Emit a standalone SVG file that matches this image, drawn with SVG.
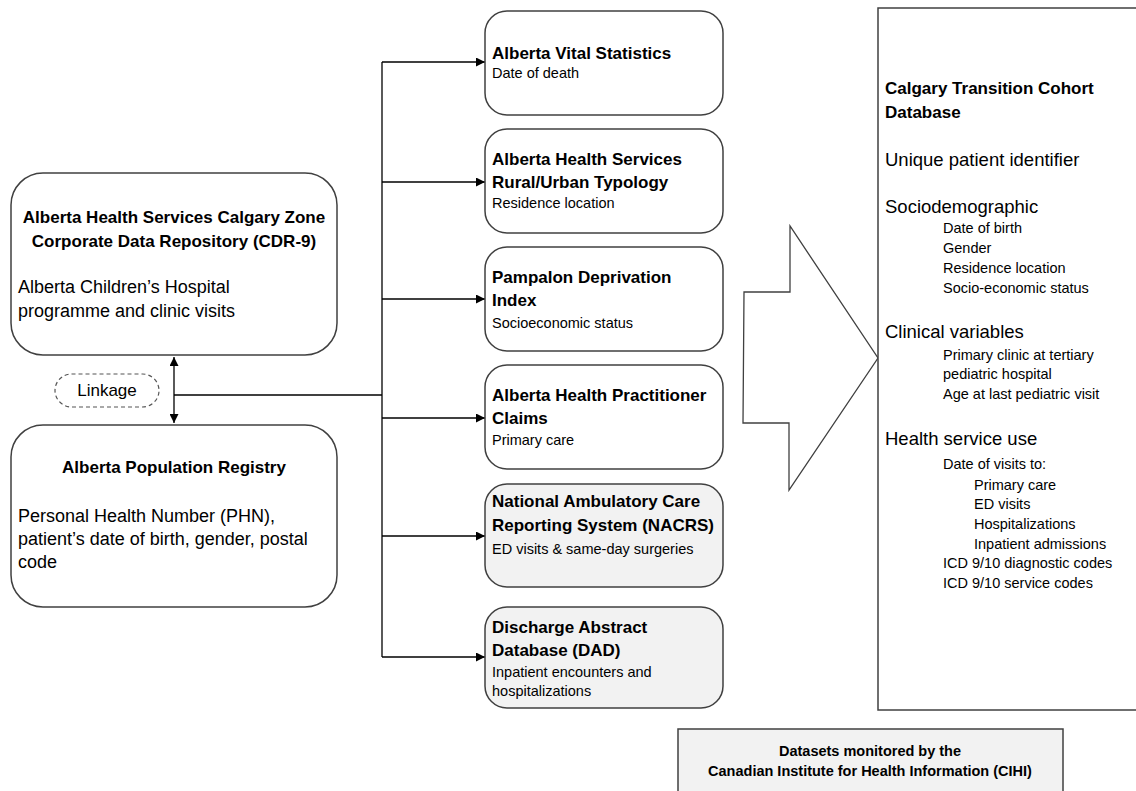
<svg xmlns="http://www.w3.org/2000/svg" width="1136" height="791" viewBox="0 0 1136 791">
<defs>
<marker id="ah" viewBox="0 0 10 10" refX="10" refY="5" markerWidth="10" markerHeight="9" markerUnits="userSpaceOnUse" orient="auto-start-reverse">
<path d="M0,0 L10,5 L0,10 Z" fill="#000"/>
</marker>
</defs>
<style>
text{font-family:"Liberation Sans",Arial,sans-serif;fill:#000}
.box{fill:#fff;stroke:#404040;stroke-width:1.5}
.gbox{fill:#f2f2f2;stroke:#404040;stroke-width:1.5}
.ln{fill:none;stroke:#000;stroke-width:1.3}
.t17b{font-size:17px;font-weight:bold}
.t18{font-size:18px}
.mt{font-size:17px;font-weight:bold}
.ms{font-size:14.5px}
.rh{font-size:18.5px}
.ri{font-size:14.5px}
.lg{font-size:14.5px;font-weight:bold}
</style>
<rect width="1136" height="791" fill="#fff"/>

<g id="connectors">
<line class="ln" x1="382" y1="62" x2="382" y2="657"/>
<line class="ln" x1="174" y1="395" x2="382" y2="395"/>
<line class="ln" x1="174" y1="357" x2="174" y2="423" marker-start="url(#ah)" marker-end="url(#ah)"/>
<line class="ln" x1="382" y1="62" x2="485" y2="62" marker-end="url(#ah)"/>
<line class="ln" x1="382" y1="182" x2="485" y2="182" marker-end="url(#ah)"/>
<line class="ln" x1="382" y1="299" x2="485" y2="299" marker-end="url(#ah)"/>
<line class="ln" x1="382" y1="418" x2="485" y2="418" marker-end="url(#ah)"/>
<line class="ln" x1="382" y1="536" x2="485" y2="536" marker-end="url(#ah)"/>
<line class="ln" x1="382" y1="657" x2="485" y2="657" marker-end="url(#ah)"/>
</g>

<g id="cdr">
<rect class="box" x="11" y="173" width="326" height="182" rx="32"/>
<text class="t17b" x="174" y="223" text-anchor="middle">Alberta Health Services Calgary Zone</text>
<text class="t17b" x="174" y="247" text-anchor="middle">Corporate Data Repository (CDR-9)</text>
<text class="t18" x="18" y="293">Alberta Children’s Hospital</text>
<text class="t18" x="18" y="317">programme and clinic visits</text>
</g>

<g id="linkage">
<rect x="55" y="374" width="104" height="33" rx="16.5" fill="#fff" stroke="#555" stroke-width="1.2" stroke-dasharray="4,3"/>
<text x="107" y="396" text-anchor="middle" style="font-size:17px">Linkage</text>
</g>

<g id="registry">
<rect class="box" x="11" y="425" width="326" height="182" rx="32"/>
<text class="t17b" x="174" y="473" text-anchor="middle">Alberta Population Registry</text>
<text class="t18" x="18" y="522">Personal Health Number (PHN),</text>
<text class="t18" x="18" y="545">patient’s date of birth, gender, postal</text>
<text class="t18" x="18" y="568">code</text>
</g>

<g id="vital">
<rect class="box" x="485" y="11" width="238" height="104" rx="22"/>
<text class="mt" x="492" y="59">Alberta Vital Statistics</text>
<text class="ms" x="492" y="78">Date of death</text>
</g>

<g id="ruralurban">
<rect class="box" x="485" y="129" width="238" height="104" rx="22"/>
<text class="mt" x="492" y="165">Alberta Health Services</text>
<text class="mt" x="492" y="188">Rural/Urban Typology</text>
<text class="ms" x="492" y="208">Residence location</text>
</g>

<g id="pampalon">
<rect class="box" x="485" y="247" width="238" height="104" rx="22"/>
<text class="mt" x="492" y="283">Pampalon Deprivation</text>
<text class="mt" x="492" y="306">Index</text>
<text class="ms" x="492" y="328">Socioeconomic status</text>
</g>

<g id="claims">
<rect class="box" x="485" y="365" width="238" height="104" rx="22"/>
<text class="mt" x="492" y="401">Alberta Health Practitioner</text>
<text class="mt" x="492" y="424">Claims</text>
<text class="ms" x="492" y="445">Primary care</text>
</g>

<g id="nacrs">
<rect class="gbox" x="485" y="484" width="238" height="103" rx="22"/>
<text class="mt" x="492" y="507">National Ambulatory Care</text>
<text class="mt" x="492" y="531">Reporting System (NACRS)</text>
<text class="ms" x="492" y="554">ED visits &amp; same-day surgeries</text>
</g>

<g id="dad">
<rect class="gbox" x="485" y="607" width="238" height="101" rx="22"/>
<text class="mt" x="492" y="633">Discharge Abstract</text>
<text class="mt" x="492" y="656">Database (DAD)</text>
<text class="ms" x="492" y="677">Inpatient encounters and</text>
<text class="ms" x="492" y="696">hospitalizations</text>
</g>

<g id="bigarrow">
<polygon points="744,292 790,292 790,226 878,358 789,490 789,423 743,423" fill="#fff" stroke="#404040" stroke-width="1.3"/>
</g>

<g id="cohort">
<rect x="878" y="8" width="270" height="702" fill="#fff" stroke="#404040" stroke-width="1.5"/>
<text class="t17b" x="885" y="94">Calgary Transition Cohort</text>
<text class="t17b" x="885" y="118">Database</text>
<text class="rh" x="885" y="166">Unique patient identifier</text>
<text class="rh" x="885" y="213">Sociodemographic</text>
<text class="ri" x="943" y="233">Date of birth</text>
<text class="ri" x="943" y="253">Gender</text>
<text class="ri" x="943" y="273">Residence location</text>
<text class="ri" x="943" y="293">Socio-economic status</text>
<text class="rh" x="885" y="338">Clinical variables</text>
<text class="ri" x="943" y="360">Primary clinic at tertiary</text>
<text class="ri" x="943" y="379">pediatric hospital</text>
<text class="ri" x="943" y="399">Age at last pediatric visit</text>
<text class="rh" x="885" y="445">Health service use</text>
<text class="ri" x="943" y="469">Date of visits to:</text>
<text class="ri" x="974" y="490">Primary care</text>
<text class="ri" x="974" y="509">ED visits</text>
<text class="ri" x="974" y="529">Hospitalizations</text>
<text class="ri" x="974" y="549">Inpatient admissions</text>
<text class="ri" x="943" y="568">ICD 9/10 diagnostic codes</text>
<text class="ri" x="943" y="588">ICD 9/10 service codes</text>
</g>

<g id="legend">
<rect x="678" y="729" width="385" height="80" fill="#f2f2f2" stroke="#404040" stroke-width="1.5"/>
<text class="lg" x="870" y="756" text-anchor="middle">Datasets monitored by the</text>
<text class="lg" x="870" y="776" text-anchor="middle">Canadian Institute for Health Information (CIHI)</text>
</g>
</svg>
